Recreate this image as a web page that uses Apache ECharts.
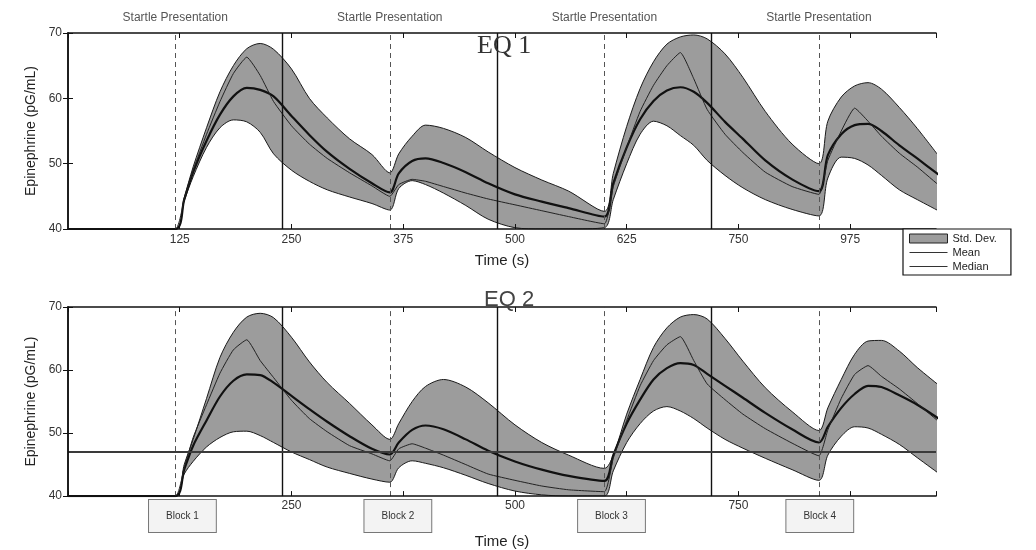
<!DOCTYPE html>
<html>
<head>
<meta charset="utf-8">
<script src="https://cdn.jsdelivr.net/npm/echarts@6/dist/echarts.min.js"></script>
<style>
html, body { margin: 0; padding: 0; background: #fff; }
#chart { width: 1036px; height: 550px; }
</style>
</head>
<body>
<div id="chart"></div>
<script>
// sample times (s), shared by both panels
var times = [0, 120, 130, 140, 155, 170, 185, 200, 215, 230, 250, 270, 290, 315, 340, 360, 370, 385, 400, 420,
  445, 470, 500, 530, 560, 600, 610, 625, 640, 655, 670, 685, 700, 715, 735, 755, 780, 810, 840, 850,
  865, 880, 895, 910, 930, 950, 975];

// EQ 1
var eq1Upper = [40, 40, 44.8, 49.5, 55.5, 61.0, 65.0, 67.6, 68.4, 67.5, 64.5, 60.0, 57.0, 53.8, 51.4, 48.6, 51.5, 54.2, 55.9, 55.4,
  54.0, 51.8, 49.4, 47.5, 45.8, 42.7, 48.5, 55.7, 61.5, 65.6, 68.3, 69.4, 69.7, 69.1, 66.8, 63.2, 58.0, 53.0, 50.0, 56.5,
  60.2, 61.9, 62.4, 61.4, 58.6, 55.4, 51.0];
var eq1Mean = [40, 40, 44.5, 48.7, 53.5, 57.5, 60.3, 61.6, 61.3, 60.3, 57.3, 54.4, 51.8, 49.2, 47.0, 45.6, 48.5, 50.4, 50.8, 50.1,
  48.7, 47.0, 45.3, 44.2, 43.2, 41.9, 47.0, 52.5, 56.8, 59.6, 61.2, 61.7, 61.0, 59.3, 56.4, 53.8, 50.5, 47.6, 45.8, 51.3,
  54.5, 55.9, 56.1, 55.0, 52.8, 50.8, 48.2];
var eq1Median = [40, 40, 44.6, 49.0, 54.5, 59.5, 63.8, 66.3, 63.5, 59.5, 55.8, 53.0, 50.8, 48.6, 46.6, 45.0, 46.8, 47.6, 47.3, 46.5,
  45.5, 44.6, 43.7, 42.8, 41.9, 40.8, 46.5, 52.5, 58.0, 62.0, 65.0, 67.0, 63.0, 58.3, 54.5, 51.7, 48.7, 46.5, 45.3, 50.5,
  55.0, 58.5, 56.5, 54.2, 51.6, 49.5, 46.6];
var eq1Lower = [40, 40, 44.3, 48.0, 52.5, 55.5, 56.7, 56.4, 54.8, 51.5, 49.0, 47.3, 46.0, 44.9, 43.9, 42.9, 46.2, 47.4, 46.8, 45.5,
  43.6, 41.5, 40.2, 40.0, 40.0, 40.2, 44.5, 50.0, 54.5, 56.5, 55.8, 54.3, 52.8, 50.5, 48.2, 46.3, 44.5, 43.0, 42.0, 47.8,
  51.0, 50.8, 49.8, 48.2, 46.0, 44.5, 42.7];

// EQ 2
var eq2Upper = [40, 40, 45.0, 49.0, 55.5, 62.0, 66.0, 68.4, 69.0, 68.3, 65.2, 61.3, 58.0, 54.7, 51.3, 49.0, 51.5, 55.0, 57.4, 58.5,
  57.3, 54.8, 51.3, 48.5, 46.5, 44.4, 46.5, 53.0, 58.5, 63.6, 66.7, 68.4, 68.8, 68.1, 65.0, 61.4, 57.2, 53.4, 50.4, 54.0,
  58.5, 62.5, 64.6, 64.7, 63.0, 60.4, 57.5];
var eq2Mean = [40, 40, 44.2, 48.0, 52.0, 55.8, 58.3, 59.3, 59.2, 58.0, 55.9, 53.8, 51.8, 49.5, 47.5, 46.6, 48.5, 50.5, 51.2, 50.6,
  49.0, 47.2, 45.5, 44.2, 43.2, 42.4, 46.5, 51.5, 55.3, 58.5, 60.3, 61.1, 60.8, 59.4, 57.5, 55.6, 53.2, 50.6, 48.5, 51.0,
  54.0, 56.2, 57.5, 57.3, 56.0, 54.5, 52.2];
var eq2Median = [40, 40, 44.5, 49.3, 54.5, 59.5, 63.2, 64.8, 61.5, 58.8, 55.2, 52.3, 50.2, 48.0, 46.7, 45.6, 47.5, 48.3, 47.6, 46.5,
  45.0, 43.5, 42.5, 41.6, 41.0, 40.7, 46.0, 52.0, 57.5, 61.5, 64.0, 65.3, 61.5, 57.8, 55.3, 53.0, 50.7, 48.4, 46.4, 50.5,
  55.5, 59.3, 60.7, 59.0, 57.0, 54.7, 51.7];
var eq2Lower = [40, 40, 43.5, 45.5, 47.8, 49.3, 50.2, 50.3, 49.6, 48.5, 47.0, 45.8, 44.6, 43.6, 42.7, 42.2, 44.5, 45.6, 45.2, 44.5,
  43.3, 42.0, 40.8, 40.2, 40.0, 40.0, 44.0, 48.5, 51.5, 53.5, 54.2, 53.5, 52.3, 50.8, 49.0, 47.6, 46.0, 44.2, 42.5, 46.5,
  49.5, 51.0, 50.8, 49.8, 48.2, 46.1, 43.5];

// events
var startleTimes = [120, 360, 600, 840];
var blockEnds = [240, 480, 720];
var startleText = 'Startle Presentation';

// tick labels
var topTickValues = [125, 250, 375, 500, 625, 750, 875];
var topTickText = ['125', '250', '375', '500', '625', '750', '975'];
var bottomLabelValues = [128, 250, 369, 500, 608, 750, 841];
var blockTimes = [128, 369, 608, 841];
var blockNames = ['Block 1', 'Block 2', 'Block 3', 'Block 4'];

// scanner line across the lower panel
var scanLineLevel = 47;

var FONT = '"Liberation Sans", Arial, sans-serif';
var BAND = '#9c9c9c';
var tMax = 971;

var chart = echarts.init(document.getElementById('chart'));

function pairs(arr) {
    return times.map(function (t, i) { return [t, arr[i]]; });
}

function eventLines(withText) {
    var d = [];
    startleTimes.forEach(function (t) {
        d.push({
            xAxis: t,
            lineStyle: {type: [5, 4], color: '#555', width: 1},
            label: withText ? {show: true, position: 'end', formatter: startleText, distance: 9,
                fontSize: 12, color: '#555', fontFamily: FONT} : {show: false}
        });
    });
    blockEnds.forEach(function (t) {
        d.push({xAxis: t, lineStyle: {type: 'solid', color: '#111', width: 1.4}, label: {show: false}});
    });
    return d;
}

function panel(k, lower, upper, mean, median) {
    var marks = eventLines(k === 0);
    if (k === 1) {
        marks.push({yAxis: scanLineLevel, lineStyle: {type: 'solid', color: '#3a3a3a', width: 2}, label: {show: false}});
    }
    var base = {type: 'line', xAxisIndex: k * 2, yAxisIndex: k * 2, symbol: 'none', smooth: 0.3, silent: true};
    return [
        // upper edge, grey down to the floor
        Object.assign({}, base, {
            name: 'Std. Dev.', data: pairs(upper),
            lineStyle: {color: '#1a1a1a', width: 1}, areaStyle: {color: BAND, opacity: 1, origin: 'start'},
            itemStyle: {color: BAND}, z: 1
        }),
        // lower edge, clears the grey below it
        Object.assign({}, base, {
            name: 'band' + k, data: pairs(lower),
            lineStyle: {color: '#1a1a1a', width: 1}, areaStyle: {color: '#fff', opacity: 1, origin: 'start'},
            itemStyle: {color: '#fff'}, z: 2
        }),
        Object.assign({}, base, {
            name: 'Mean', data: pairs(mean), lineStyle: {color: '#111', width: 2.2}, itemStyle: {color: '#111'}, z: 3,
            markLine: {symbol: 'none', silent: true, animation: false, data: marks}
        }),
        Object.assign({}, base, {
            name: 'Median', data: pairs(median), smooth: 0.15, lineStyle: {color: '#222', width: 1},
            itemStyle: {color: '#222'}, z: 3
        })
    ];
}

function timeAxis(g, labelOpt, gap) {
    return {
        type: 'value', gridIndex: g, min: 0, max: tMax, interval: 125, position: 'bottom', z: 5,
        axisLine: {onZero: false, lineStyle: {color: '#111', width: 1.5}},
        axisTick: {inside: true, length: 5, lineStyle: {color: '#111'}},
        splitLine: {show: false},
        axisLabel: labelOpt,
        name: 'Time (s)', nameLocation: 'middle', nameGap: gap,
        nameTextStyle: {fontSize: 15, color: '#222', fontFamily: FONT}
    };
}

function mirrorX(g) {
    return {
        type: 'value', gridIndex: g, min: 0, max: tMax, interval: 125, position: 'top', z: 5,
        axisLine: {onZero: false, lineStyle: {color: '#111', width: 1.5}},
        axisTick: {inside: true, length: 5, lineStyle: {color: '#111'}},
        axisLabel: {show: false}, splitLine: {show: false}
    };
}

function levelAxis(g) {
    return {
        type: 'value', gridIndex: g, min: 40, max: 70, interval: 10, z: 5,
        axisLine: {lineStyle: {color: '#111', width: 1.5}},
        axisTick: {inside: true, length: 5, lineStyle: {color: '#111'}},
        axisLabel: {fontSize: 12, color: '#333', margin: 6, fontFamily: FONT},
        splitLine: {show: false},
        name: 'Epinephrine (pG/mL)', nameLocation: 'middle', nameGap: 27,
        nameTextStyle: {fontSize: 14, color: '#222', fontFamily: FONT}
    };
}

function mirrorY(g) {
    return {
        type: 'value', gridIndex: g, min: 40, max: 70, interval: 10, position: 'right', z: 5,
        axisLine: {lineStyle: {color: '#111', width: 1.5}},
        axisTick: {inside: true, length: 5, lineStyle: {color: '#111'}},
        axisLabel: {show: false}, splitLine: {show: false}
    };
}

var lineIcon = 'path://M0,0H40V1H0Z';

var option = {
    animation: false,
    backgroundColor: '#fff',
    textStyle: {fontFamily: FONT, color: '#333'},
    title: [
        {text: 'EQ 1', left: 477, top: 33, padding: 0,
            textStyle: {fontFamily: '"Liberation Serif", serif', fontSize: 26, fontWeight: 'normal', color: '#333'}},
        {text: 'EQ 2', left: 484, top: 289, padding: 0,
            textStyle: {fontFamily: FONT, fontSize: 22, fontWeight: 'normal', color: '#444'}}
    ],
    legend: {
        left: 903, top: 229, orient: 'vertical', z: 10,
        backgroundColor: '#fff', borderColor: '#111', borderWidth: 1.2, borderRadius: 0,
        padding: [4, 14, 3, 6], itemGap: 3, itemWidth: 38, itemHeight: 9,
        textStyle: {fontSize: 11, color: '#222', fontFamily: FONT},
        data: [
            {name: 'Std. Dev.', icon: 'rect', itemStyle: {color: BAND, borderColor: '#222', borderWidth: 1}},
            {name: 'Mean', icon: lineIcon, itemStyle: {color: '#333'}},
            {name: 'Median', icon: lineIcon, itemStyle: {color: '#333'}}
        ]
    },
    grid: [
        {left: 68, top: 33, width: 868, height: 196},
        {left: 68, top: 307, width: 868, height: 196}
    ],
    xAxis: [
        timeAxis(0, {
            fontSize: 12, color: '#333', margin: 5, fontFamily: FONT,
            showMinLabel: false, showMaxLabel: false,
            formatter: function (v) {
                var i = topTickValues.indexOf(v);
                return i < 0 ? '' : topTickText[i];
            }
        }, 24),
        mirrorX(0),
        timeAxis(1, {
            fontSize: 12, color: '#333', margin: 4, fontFamily: FONT,
            customValues: bottomLabelValues,
            formatter: function (v) {
                var i = blockTimes.indexOf(v);
                return i < 0 ? String(v) : '{b|' + blockNames[i] + '}';
            },
            rich: {
                b: {fontSize: 10, color: '#333', fontFamily: FONT, borderColor: '#777', borderWidth: 1,
                    backgroundColor: '#f3f3f3', padding: [11, 17]}
            }
        }, 20),
        mirrorX(1)
    ],
    yAxis: [levelAxis(0), mirrorY(0), levelAxis(1), mirrorY(1)],
    series: panel(0, eq1Lower, eq1Upper, eq1Mean, eq1Median)
        .concat(panel(1, eq2Lower, eq2Upper, eq2Mean, eq2Median))
};

chart.setOption(option);
</script>
</body>
</html>
